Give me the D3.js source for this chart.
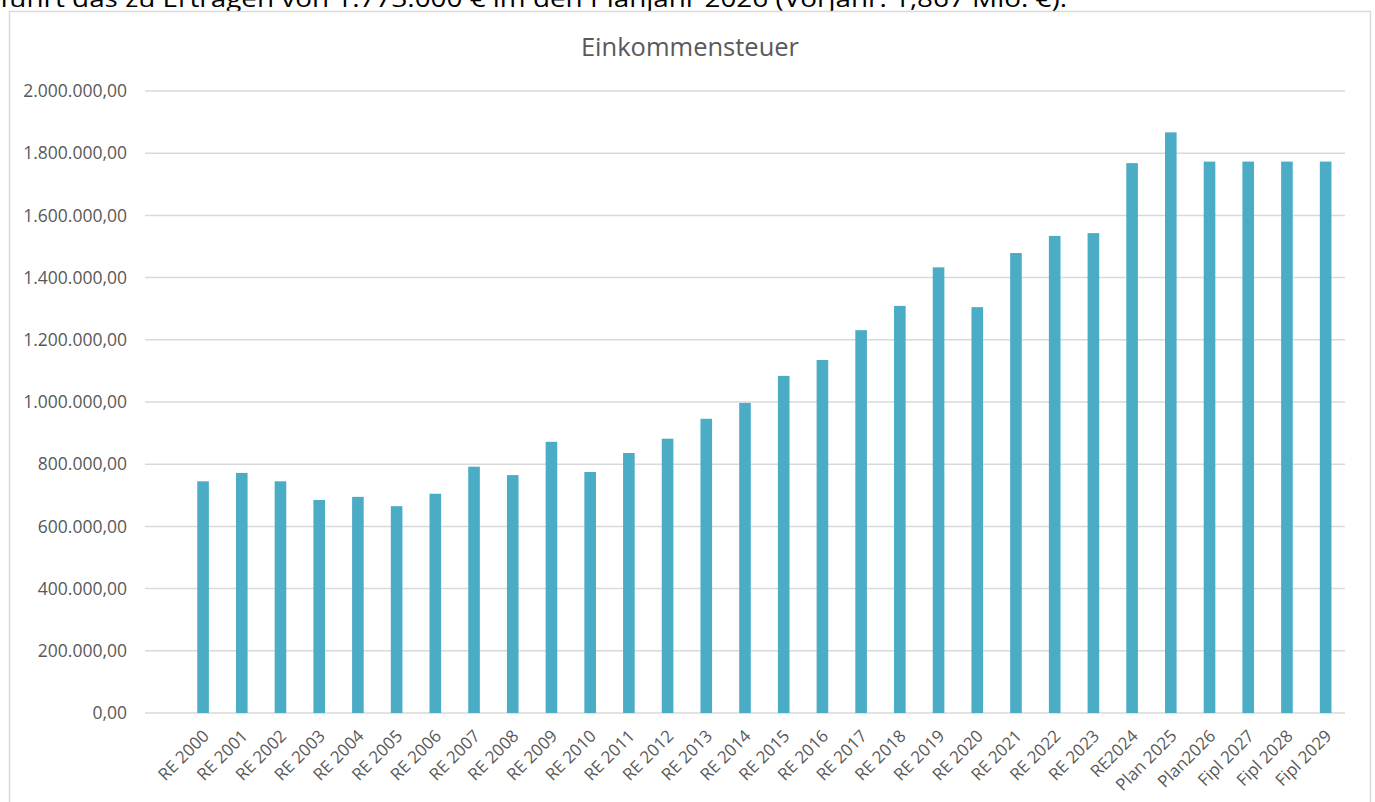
<!DOCTYPE html>
<html lang="de">
<head>
    <meta charset="UTF-8">
    <title>Einkommensteuer</title>
    <script src="https://d3js.org/d3.v7.min.js"></script>
    <style>
        html, body { margin: 0; padding: 0; background: #fff; overflow: hidden; }
        svg { display: block; font-family: "Open Sans", "Noto Sans", sans-serif; }
        .grid line { stroke: #d9d9d9; stroke-width: 1.5px; }
        .label { fill: #595959; }
    </style>
</head>
<body>
    <div id="chart"></div>

    <script>
        // categories (first slot is an empty category, as in the source sheet)
        const categories = ["", "RE 2000", "RE 2001", "RE 2002", "RE 2003", "RE 2004", "RE 2005", "RE 2006",
            "RE 2007", "RE 2008", "RE 2009", "RE 2010", "RE 2011", "RE 2012", "RE 2013", "RE 2014",
            "RE 2015", "RE 2016", "RE 2017", "RE 2018", "RE 2019", "RE 2020", "RE 2021", "RE 2022",
            "RE 2023", "RE2024", "Plan 2025", "Plan2026", "Fipl 2027", "Fipl 2028", "Fipl 2029"];

        const values = [null, 745000, 772000, 745000, 685000, 695000, 665000, 705000,
            792000, 765000, 872000, 775000, 836000, 882000, 946000, 997000,
            1084000, 1135000, 1231000, 1309000, 1433000, 1305000, 1479000, 1534000,
            1543000, 1768000, 1867000, 1773000, 1773000, 1773000, 1773000];

        const yTicks = [0, 200000, 400000, 600000, 800000, 1000000, 1200000, 1400000, 1600000, 1800000, 2000000];

        const title = "Einkommensteuer";
        const introText = "führt das zu Erträgen von 1.773.000 € im den Planjahr 2026 (Vorjahr: 1,867 Mio. €).";

        const width = 1375, height = 802;
        const margin = { left: 145, right: 30, top: 91, bottom: 89 };

        const svg = d3.select("#chart").append("svg")
            .attr("width", width)
            .attr("height", height);

        // text line of the page above the chart, cut off at the top
        svg.append("text")
            .attr("x", 0)
            .attr("y", 7)
            .attr("font-size", 23)
            .attr("fill", "#000")
            .attr("textLength", 1067)
            .attr("lengthAdjust", "spacingAndGlyphs")
            .text(introText);

        // chart frame
        svg.append("rect")
            .attr("x", 9.5).attr("y", 11.5)
            .attr("width", 1361).attr("height", 820)
            .attr("fill", "#fff")
            .attr("stroke", "#d9d9d9")
            .attr("stroke-width", 1.5);

        svg.append("text")
            .attr("class", "label")
            .attr("x", 690)
            .attr("y", 56)
            .attr("text-anchor", "middle")
            .attr("font-size", 25.5)
            .text(title);

        const x = d3.scaleBand()
            .domain(categories)
            .range([margin.left, width - margin.right]);

        const y = d3.scaleLinear()
            .domain([0, 2000000])
            .range([height - margin.bottom, margin.top]);

        const fmt = v => d3.format(",.2f")(v).replace(/,/g, "#").replace(".", ",").replace(/#/g, ".");

        // gridlines + y labels
        const grid = svg.append("g").attr("class", "grid");
        grid.selectAll("line")
            .data(yTicks)
            .enter().append("line")
            .attr("x1", margin.left)
            .attr("x2", width - margin.right)
            .attr("y1", d => y(d))
            .attr("y2", d => y(d));

        svg.append("g").selectAll("text")
            .data(yTicks)
            .enter().append("text")
            .attr("class", "label")
            .attr("x", 127)
            .attr("y", d => y(d))
            .attr("dy", "0.35em")
            .attr("text-anchor", "end")
            .attr("font-size", 17.5)
            .text(d => fmt(d));

        // bars
        const barW = x.bandwidth() * 0.3;
        svg.append("g").selectAll("rect")
            .data(categories.map((c, i) => ({ c, v: values[i] })).filter(d => d.v != null))
            .enter().append("rect")
            .attr("x", d => x(d.c) + x.bandwidth() / 2 - barW / 2)
            .attr("y", d => y(d.v))
            .attr("width", barW)
            .attr("height", d => y(0) - y(d.v))
            .attr("fill", "#4bacc6");

        // x labels, rotated
        svg.append("g").selectAll("text")
            .data(categories.filter(c => c !== ""))
            .enter().append("text")
            .attr("class", "label")
            .attr("font-size", 17)
            .attr("text-anchor", "end")
            .attr("transform", d => `translate(${x(d) + x.bandwidth() / 2 + 7},${height - margin.bottom + 24}) rotate(-45)`)
            .text(d => d);
    </script>
</body>
</html>
